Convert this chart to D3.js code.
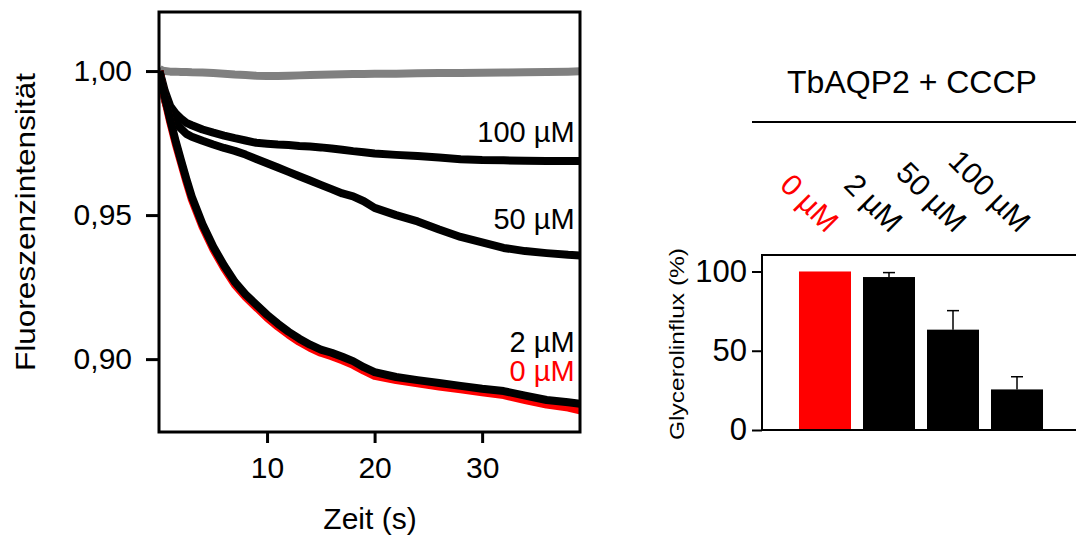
<!DOCTYPE html>
<html>
<head>
<meta charset="utf-8">
<script src="https://cdn.jsdelivr.net/npm/d3@7"></script>
<style>
  body { margin: 0; background: #fff; }
  text { font-family: "Liberation Sans", Arial, sans-serif; fill: #000; }
</style>
</head>
<body>
<script>
const WIDTH = 1076;
const HEIGHT = 537;

// time grid (s) shared by all traces
const timeS = [0, 0.25, 0.5, 1, 1.5, 2, 2.5, 3, 4, 5, 6, 7, 8, 9, 10, 11, 12, 13, 14, 15,
               16, 17, 18, 19, 20, 22, 24, 26, 28, 30, 32, 34, 36, 38, 39.1];

const control = [1.0008, 1.0002, 1.0000, 0.9998, 0.9998, 0.9997, 0.9997, 0.9996, 0.9995, 0.9993,
                 0.9991, 0.9988, 0.9986, 0.9984, 0.9983, 0.9983, 0.9984, 0.9985, 0.9986, 0.9987,
                 0.9988, 0.9989, 0.9990, 0.9990, 0.9991, 0.9991, 0.9992, 0.9993, 0.9993, 0.9994,
                 0.9995, 0.9996, 0.9997, 0.9998, 0.9999];
const cccp0 = [1.000, 0.9950, 0.9903, 0.9822, 0.9748, 0.9682, 0.9616, 0.9555, 0.9459, 0.9381,
               0.9316, 0.9259, 0.9216, 0.9180, 0.9144, 0.9113, 0.9085, 0.9060, 0.9039, 0.9022,
               0.9010, 0.8996, 0.8980, 0.8960, 0.8942, 0.8927, 0.8916, 0.8905, 0.8895, 0.8885,
               0.8875, 0.8858, 0.8842, 0.8832, 0.8822];
const cccp2 = [1.000, 0.9955, 0.9910, 0.9830, 0.9757, 0.9690, 0.9625, 0.9564, 0.9468, 0.9390,
               0.9325, 0.9268, 0.9225, 0.9189, 0.9154, 0.9123, 0.9095, 0.9071, 0.9050, 0.9033,
               0.9022, 0.9008, 0.8993, 0.8972, 0.8955, 0.8938, 0.8927, 0.8917, 0.8907, 0.8897,
               0.8889, 0.8873, 0.8858, 0.8850, 0.8845];
const cccp50 = [1.000, 0.9950, 0.9900, 0.9840, 0.9818, 0.9800, 0.9782, 0.9772, 0.9758, 0.9745,
                0.9733, 0.9723, 0.9710, 0.9695, 0.9680, 0.9665, 0.9650, 0.9635, 0.9620, 0.9605,
                0.9590, 0.9575, 0.9565, 0.9548, 0.9525, 0.9500, 0.9478, 0.9450, 0.9424, 0.9405,
                0.9386, 0.9375, 0.9368, 0.9362, 0.9360];
const cccp100 = [1.000, 0.9965, 0.9930, 0.9878, 0.9853, 0.9835, 0.9820, 0.9812, 0.9797, 0.9786,
                 0.9776, 0.9767, 0.9759, 0.9751, 0.9748, 0.9745, 0.9743, 0.9740, 0.9738, 0.9735,
                 0.9731, 0.9727, 0.9722, 0.9718, 0.9714, 0.9709, 0.9705, 0.9700, 0.9694, 0.9691,
                 0.9690, 0.9689, 0.9688, 0.9688, 0.9688];

// trace labels: text, colour, value where the baseline sits
const traceLabels = ["100 µM", "50 µM", "2 µM", "0 µM"];
const traceLabelColors = ["#000", "#000", "#000", "#ff0000"];
const traceLabelValues = [0.9755, 0.9453, 0.9025, 0.8924];

const xTicks = [10, 20, 30];
const yTicks = [0.90, 0.95, 1.00];

// bar chart
const concentrations = ["0 µM", "2 µM", "50 µM", "100 µM"];
const influx = [100, 96.5, 63.3, 25.6];
const influxErr = [0, 2.8, 12, 8];
const barColors = ["#ff0000", "#000", "#000", "#000"];
const influxTicks = [0, 50, 100];

let svg = d3.select("body")
            .append("svg")
            .attr("width", WIDTH)
            .attr("height", HEIGHT);

// ---------- left: fluorescence traces ----------
const L = { left: 159, right: 580, top: 12, bottom: 432 };

const x = d3.scaleLinear().domain([0, 39.1]).range([159.5, L.right]);
const y = d3.scaleLinear().domain([0.8747, 1.0205]).range([L.bottom, L.top]);

svg.append("clipPath").attr("id", "plot-clip")
   .append("rect")
   .attr("x", L.left).attr("y", L.top)
   .attr("width", L.right - L.left).attr("height", L.bottom - L.top);

const line = d3.line()
               .x((d, i) => x(timeS[i]))
               .y(d => y(d));

const traces = [
  { values: control, color: "#808080" },
  { values: cccp100, color: "#000" },
  { values: cccp50, color: "#000" },
  { values: cccp0, color: "#ff0000" },
  { values: cccp2, color: "#000" }
];

svg.append("g")
   .attr("clip-path", "url(#plot-clip)")
   .selectAll("path")
   .data(traces)
   .enter().append("path")
   .attr("d", d => line(d.values))
   .attr("fill", "none")
   .attr("stroke", d => d.color)
   .attr("stroke-width", 8)
   .attr("stroke-linejoin", "round");

svg.append("rect")
   .attr("x", L.left).attr("y", L.top)
   .attr("width", L.right - L.left).attr("height", L.bottom - L.top)
   .attr("fill", "none")
   .attr("stroke", "#000")
   .attr("stroke-width", 3);

let yAxis = svg.append("g")
               .attr("transform", `translate(${L.left},0)`)
               .call(d3.axisLeft(y)
                       .tickValues(yTicks)
                       .tickSize(13)
                       .tickPadding(14)
                       .tickFormat(d => d3.format(".2f")(d).replace(".", ",")));

let xAxis = svg.append("g")
               .attr("transform", `translate(0,${L.bottom})`)
               .call(d3.axisBottom(x)
                       .tickValues(xTicks)
                       .tickSize(11)
                       .tickPadding(14)
                       .tickFormat(d3.format("d")));

[yAxis, xAxis].forEach(ax => {
  ax.select(".domain").remove();
  ax.selectAll(".tick line").attr("stroke", "#000").attr("stroke-width", 3);
  ax.selectAll(".tick text")
    .attr("fill", "#000")
    .style("font-family", "'Liberation Sans', Arial, sans-serif")
    .style("font-size", "30px");
});

svg.selectAll("text.trace-label")
   .data(traceLabels)
   .enter().append("text")
   .attr("class", "trace-label")
   .attr("x", x(38.6))
   .attr("y", (d, i) => y(traceLabelValues[i]))
   .attr("text-anchor", "end")
   .style("font-size", "29px")
   .style("fill", (d, i) => traceLabelColors[i])
   .text(d => d);

svg.append("text")
   .attr("x", 370)
   .attr("y", 529)
   .attr("text-anchor", "middle")
   .style("font-size", "30px")
   .text("Zeit (s)");

svg.append("text")
   .attr("transform", "translate(35,222) rotate(-90)")
   .attr("text-anchor", "middle")
   .attr("textLength", 298)
   .attr("lengthAdjust", "spacingAndGlyphs")
   .style("font-size", "28px")
   .text("Fluoreszenzintensität");

// ---------- right: glycerol influx bars ----------
const B = { left: 762, right: 1080, top: 255, bottom: 430 };

const xb = d3.scaleBand()
             .domain(concentrations)
             .range([B.left, B.right])
             .paddingInner(0.1875)
             .paddingOuter(0.578);
const yb = d3.scaleLinear().domain([0, 110.4]).range([B.bottom, B.top]);

const barMid = i => xb(concentrations[i]) + xb.bandwidth() / 2;

svg.selectAll("rect.bar")
   .data(influx)
   .enter().append("rect")
   .attr("class", "bar")
   .attr("x", (d, i) => xb(concentrations[i]))
   .attr("y", d => yb(d))
   .attr("width", xb.bandwidth())
   .attr("height", d => yb(0) - yb(d))
   .attr("fill", (d, i) => barColors[i]);

// error bars only point upwards
let errs = svg.selectAll("g.err")
              .data(influx.map((v, i) => ({ v: v, e: influxErr[i], i: i })).filter(d => d.e > 0))
              .enter().append("g")
              .attr("class", "err");

errs.append("line")
    .attr("x1", d => barMid(d.i))
    .attr("x2", d => barMid(d.i))
    .attr("y1", d => yb(d.v))
    .attr("y2", d => yb(d.v + d.e))
    .attr("stroke", "#000")
    .attr("stroke-width", 1.5);

errs.append("line")
    .attr("x1", d => barMid(d.i) - 6)
    .attr("x2", d => barMid(d.i) + 6)
    .attr("y1", d => yb(d.v + d.e))
    .attr("y2", d => yb(d.v + d.e))
    .attr("stroke", "#000")
    .attr("stroke-width", 1.5);

svg.append("path")
   .attr("d", `M${B.right + 10},${B.top}H${B.left}V${B.bottom}H${B.right + 10}`)
   .attr("fill", "none")
   .attr("stroke", "#000")
   .attr("stroke-width", 2);

let ybAxis = svg.append("g")
                .attr("transform", `translate(${B.left},0)`)
                .call(d3.axisLeft(yb)
                        .tickValues(influxTicks)
                        .tickSize(10)
                        .tickPadding(5));
ybAxis.select(".domain").remove();
ybAxis.selectAll(".tick line").attr("stroke", "#000").attr("stroke-width", 2);
ybAxis.selectAll(".tick text")
      .attr("fill", "#000")
      .style("font-family", "'Liberation Sans', Arial, sans-serif")
      .style("font-size", "31px");

svg.append("text")
   .attr("transform", "translate(684,344) rotate(-90)")
   .attr("text-anchor", "middle")
   .attr("textLength", 192)
   .attr("lengthAdjust", "spacingAndGlyphs")
   .style("font-size", "21px")
   .text("Glycerolinflux (%)");

svg.selectAll("text.conc")
   .data(concentrations)
   .enter().append("text")
   .attr("class", "conc")
   .attr("transform", d => `translate(${xb(d) + xb.bandwidth() / 2 + 1},234) rotate(45)`)
   .attr("text-anchor", "end")
   .style("font-size", "30px")
   .style("fill", (d, i) => barColors[i])
   .text(d => d);

svg.append("text")
   .attr("x", 912)
   .attr("y", 93)
   .attr("text-anchor", "middle")
   .style("font-size", "32px")
   .text("TbAQP2 + CCCP");

svg.append("line")
   .attr("x1", 752).attr("x2", WIDTH)
   .attr("y1", 122).attr("y2", 122)
   .attr("stroke", "#000")
   .attr("stroke-width", 2);
</script>
</body>
</html>
